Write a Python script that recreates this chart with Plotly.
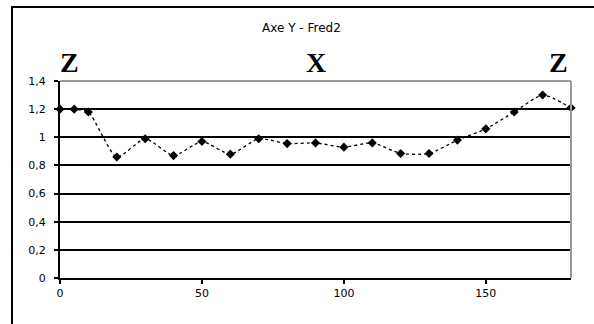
import plotly.graph_objects as go

# Data
x_vals = [0, 5, 10, 20, 30, 40, 50, 60, 70, 80, 90, 100, 110, 120, 130, 140, 150, 160, 170, 180]
y_vals = [1.2, 1.2, 1.18, 0.86, 0.99, 0.87, 0.97, 0.88, 0.99, 0.955, 0.96, 0.93, 0.96, 0.885, 0.885, 0.98, 1.06, 1.18, 1.30, 1.21]

y_ticks = [0, 0.2, 0.4, 0.6, 0.8, 1.0, 1.2, 1.4]
y_ticktext = ["0", "0,2", "0,4", "0,6", "0,8", "1", "1,2", "1,4"]
x_ticks = [0, 50, 100, 150]
x_ticktext = ["0", "50", "100", "150"]

title_text = "Axe Y - Fred2"
region_labels = ["Z", "X", "Z"]
region_pos = [3.5, 90, 175.5]

W, H = 594, 324
plot_left, plot_right, plot_top, plot_bottom = 60, 571, 81, 278
L = plot_left
T = plot_top
R = W - plot_right
B = H - plot_bottom
pw, ph = plot_right - plot_left, plot_bottom - plot_top

def px_x(p):
    return (p - plot_left) / pw

def px_y(p):
    return (plot_bottom - p) / ph

fig = go.Figure()
fig.add_trace(go.Scatter(
    x=x_vals, y=y_vals, mode="lines+markers",
    line=dict(color="black", width=1.3, dash="dot", shape="spline", smoothing=0.6),
    marker=dict(symbol="diamond", size=7, color="black"),
    showlegend=False, cliponaxis=False, hoverinfo="skip",
))

font_sans = "DejaVu Sans"
fig.update_layout(
    width=W, height=H,
    margin=dict(l=L, r=R, t=T, b=B, autoexpand=False),
    paper_bgcolor="white", plot_bgcolor="white",
    font=dict(family=font_sans, size=11, color="black"),
    xaxis=dict(range=[0, 180], tickvals=x_ticks, ticktext=x_ticktext, automargin=False,
               showgrid=False, zeroline=False, showline=True, linecolor="black", linewidth=2,
               ticks="outside", ticklen=4, tickwidth=1.5, tickcolor="black",
               tickfont=dict(family=font_sans, size=11)),
    yaxis=dict(range=[0, 1.4], tickvals=y_ticks, ticktext=y_ticktext, automargin=False,
               showgrid=True, gridcolor="black", gridwidth=1.5, zeroline=False,
               showline=True, linecolor="black", linewidth=2,
               ticks="outside", ticklen=4, tickwidth=1.5, tickcolor="black",
               ticklabelstandoff=6,
               tickfont=dict(family=font_sans, size=11)),
)

# plot area top and right borders (gray)
fig.add_shape(type="line", xref="paper", yref="paper", x0=0, x1=1, y0=1, y1=1,
              line=dict(color="#9a9a9a", width=2), layer="above")
fig.add_shape(type="line", xref="paper", yref="paper", x0=1, x1=1, y0=0, y1=1,
              line=dict(color="#9a9a9a", width=2), layer="above")

# outer chart frame
fig.add_shape(type="rect", xref="paper", yref="paper",
              x0=px_x(12), x1=px_x(W + 20), y0=px_y(H + 20), y1=px_y(7),
              line=dict(color="black", width=2), fillcolor="rgba(0,0,0,0)", layer="below")

fig.add_annotation(text=title_text, xref="paper", yref="paper",
                   x=px_x(301), y=px_y(28), showarrow=False,
                   xanchor="center", yanchor="middle",
                   font=dict(family=font_sans, size=12, color="black"))

for lab, xp in zip(region_labels, region_pos):
    fig.add_annotation(text="<b>" + lab + "</b>", xref="x", yref="paper",
                       x=xp, y=px_y(63), showarrow=False,
                       xanchor="center", yanchor="middle",
                       font=dict(family="Liberation Serif", size=28, color="black"))

fig.write_html("out.html", config={"displayModeBar": False},
               post_script="document.body.style.margin='0';document.body.style.overflow='hidden';")
